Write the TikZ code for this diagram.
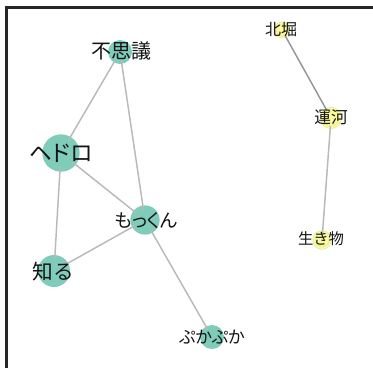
\documentclass[tikz,border=0pt]{standalone}
\usepackage{fontspec}
\newfontfamily\jp{Noto Sans CJK JP}
\newfontfamily\jpp[RawFeature=+palt]{Noto Sans CJK JP}
\definecolor{teal1}{RGB}{127,204,187}
\definecolor{yel1}{RGB}{250,250,160}
\definecolor{edg}{RGB}{185,185,185}
\definecolor{edgd}{RGB}{150,150,150}
\definecolor{txt}{RGB}{20,20,20}
\tikzset{
  dotT/.style={circle,fill=teal1,inner sep=0pt,minimum size=#1},
  dotY/.style={circle,fill=yel1,draw=yel1!80!gray,line width=0.3pt,inner sep=0pt,minimum size=#1},
  lab/.style={font=\jp\fontsize{#1}{#1}\selectfont,text=txt,inner sep=0pt,anchor=center},
  labp/.style={font=\jpp\fontsize{#1}{#1}\selectfont,text=txt,inner sep=0pt,anchor=center},
  edge/.style={draw=edg,line width=1.1pt},
  edged/.style={draw=edgd,line width=1.1pt}
}
\begin{document}
\begin{tikzpicture}[x=0.75pt,y=-0.75pt]
\useasboundingbox (0,0) rectangle (373,368);
\draw[line width=1.6pt,color=black!85] (6.5,368) -- (6.5,7.5) -- (373,7.5);
% circles
\node[dotT=18] (fushigi) at (120,52) {};
\node[dotT=28] (hedoro) at (61,153) {};
\node[dotT=22] (mokun) at (145,220) {};
\node[dotT=24] (shiru) at (54,271) {};
\node[dotT=18] (puka) at (212,337) {};
\node[dotY=12] (kitabori) at (282,30) {};
\node[dotY=16] (unga) at (331,118) {};
\node[dotY=14] (ikimono) at (322,240) {};
% edges
\draw[edge] (fushigi.center) -- (hedoro.center);
\draw[edge] (fushigi.center) -- (mokun.center);
\draw[edge] (hedoro.center) -- (mokun.center);
\draw[edge] (hedoro.center) -- (shiru.center);
\draw[edge] (shiru.center) -- (mokun.center);
\draw[edge] (mokun.center) -- (puka.center);
\draw[edged] (kitabori.center) -- (unga.center);
\draw[edge] (unga.center) -- (ikimono.center);
% redraw circles over edges
\fill[teal1] (fushigi) circle (9);
\fill[teal1] (hedoro) circle (14);
\fill[teal1] (mokun) circle (11);
\fill[teal1] (shiru) circle (12);
\fill[teal1] (puka) circle (9);
\filldraw[fill=yel1,draw=yel1!80!gray,line width=0.3pt] (kitabori) circle (6);
\filldraw[fill=yel1,draw=yel1!80!gray,line width=0.3pt] (unga) circle (8);
\filldraw[fill=yel1,draw=yel1!80!gray,line width=0.3pt] (ikimono) circle (7);
% labels
\node[lab=15pt] (tfushigi) at (121,51) {不思議};
\node[labp=17pt] (thedoro) at (61,153) {ヘドロ};
\node[labp=14pt] (tmokun) at (146,221) {もっくん};
\node[lab=15.5pt] (tshiru) at (53,272) {知る};
\node[labp=12.8pt] (tpuka) at (212,337) {ぷかぷか};
\node[lab=12pt] (tkitabori) at (281,30) {北堀};
\node[lab=12.5pt] (tunga) at (331,117) {運河};
\node[lab=11.5pt] (tikimono) at (321,239) {生き物};
\end{tikzpicture}
\end{document}
